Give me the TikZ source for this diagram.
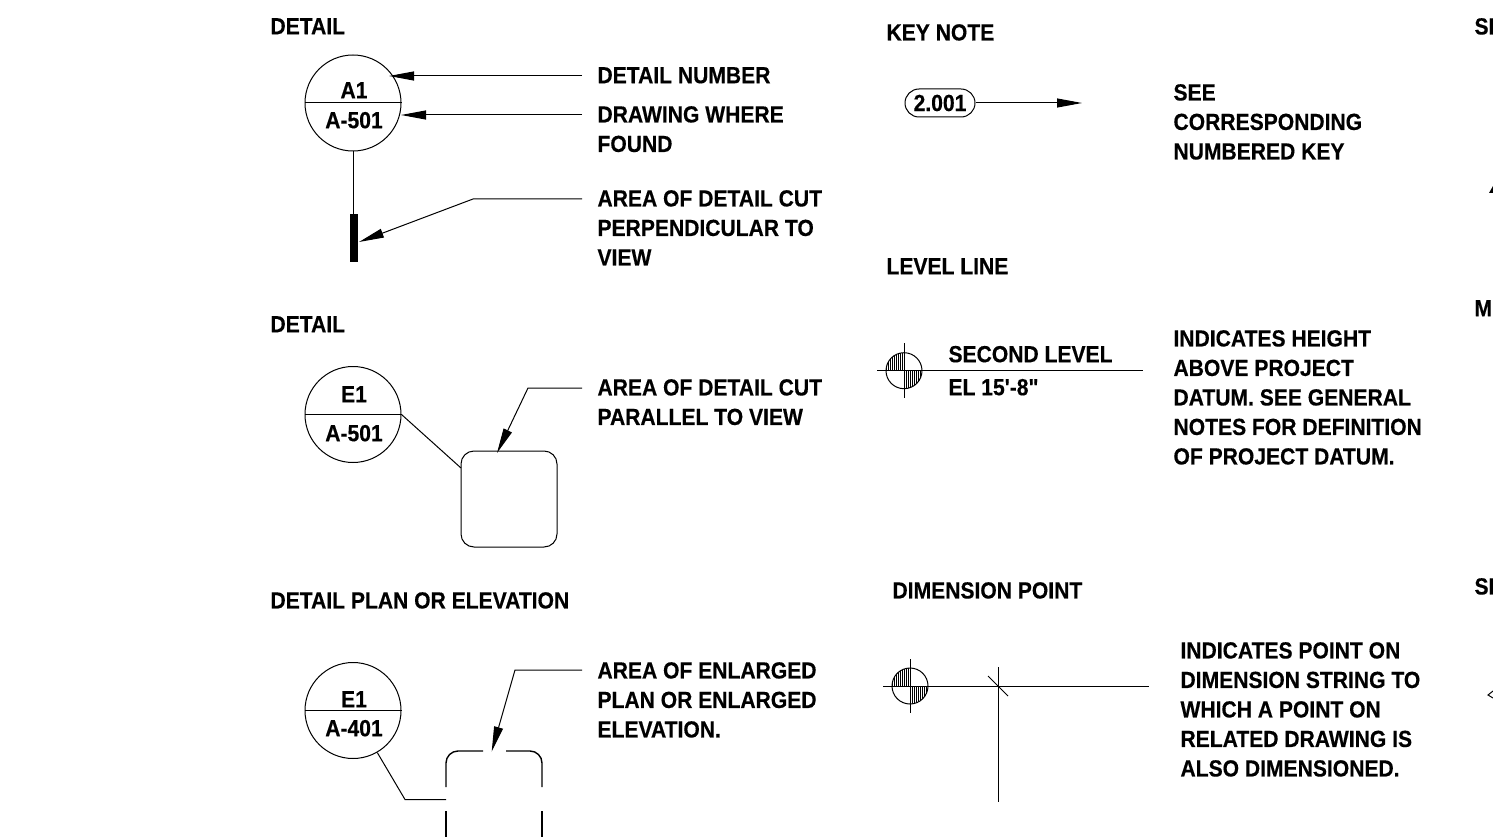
\documentclass[tikz,border=0pt]{standalone}
\usepackage{fontspec}
\setmainfont[Ligatures=TeXOff, FakeStretch=0.905, BoldFeatures={FakeBold=0.4}]{Liberation Sans}
\usetikzlibrary{arrows.meta}

\begin{document}
\begin{tikzpicture}[x=1pt, y=-1pt, line width=1pt,
    main/.style = {draw, circle, minimum size=96pt, inner sep=0pt},
    note/.style = {anchor=north west, align=left, inner sep=0pt, yshift=0.8pt, font=\fontsize{23.3}{29.5}\selectfont\bfseries},
    mid/.style = {inner sep=0pt, yshift=0.8pt, font=\fontsize{23.3}{29.5}\selectfont\bfseries},
    lead/.style = {-{Triangle[length=25pt,width=9pt]}},
    heavy/.style = {line width=1.4pt}]
    \useasboundingbox (0,0) rectangle (1493,837);

    % left column
    \node[note] (t1) at (270,18.5) {DETAIL};
    \node[main] (c1) at (353,103) {};
    \draw (c1.west) -- (c1.east);
    \node[mid] (a1) at (354,91) {A1};
    \node[mid] (s1) at (354,121) {A-501};
    \node[note] (n1) at (597,67.5) {DETAIL NUMBER};
    \node[note] (n2) at (597,106.5) {DRAWING WHERE\\FOUND};
    \node[note] (n3) at (597,190.5) {AREA OF DETAIL CUT\\PERPENDICULAR TO\\VIEW};
    \coordinate (e1) at (582,76);
    \coordinate (tip1) at (389,76);
    \coordinate (e2) at (582,115);
    \coordinate (tip2) at (401,115);
    \coordinate (e3) at (582,199);
    \coordinate (k3) at (473,199);
    \coordinate (tip3) at (359,242);
    \node[fill=black, minimum width=8pt, minimum height=48pt, inner sep=0pt] (bar) at (354,238) {};
    \draw[lead] (e1) -- (tip1);
    \draw[lead] (e2) -- (tip2);
    \draw (c1.south) -- (c1.south |- bar.north);
    \draw[lead] (e3) -- (k3) -- (tip3);

    \node[note] (t2) at (270,316.5) {DETAIL};
    \node[main] (c2) at (353,414.5) {};
    \draw (c2.west) -- (c2.east);
    \node[mid] (a2) at (354,395) {E1};
    \node[mid] (s2) at (354,434) {A-501};
    \node[draw, minimum size=96pt, inner sep=0pt, rounded corners=13pt] (r2) at (509,499) {};
    \node[note] (n4) at (597,379.5) {AREA OF DETAIL CUT\\PARALLEL TO VIEW};
    \coordinate (j2) at (461,468);
    \coordinate (e4) at (582,388);
    \coordinate (k4) at (528,388);
    \coordinate (tip4) at (497,453);
    \draw (c2.east) -- (j2);
    \draw[lead] (e4) -- (k4) -- (tip4);

    \node[note] (t3) at (270,592.5) {DETAIL PLAN OR ELEVATION};
    \node[main] (c3) at (353,710.5) {};
    \draw (c3.west) -- (c3.east);
    \node[mid] (a3) at (354,700) {E1};
    \node[mid] (s3) at (354,729) {A-401};
    \node[note] (n5) at (597,662.5) {AREA OF ENLARGED\\PLAN OR ENLARGED\\ELEVATION.};
    \coordinate (k5) at (405,799.5);
    \coordinate (j5) at (446,799.5);
    \coordinate (e6) at (582,670);
    \coordinate (k6) at (515,670);
    \coordinate (tip6) at (491.7,751.5);
    \draw (c3.-60) -- (k5) -- (j5);
    \draw[lead] (e6) -- (k6) -- (tip6);
    \draw[heavy, rounded corners=12pt] (446,787) -- (446,751) -- (483,751);
    \draw[heavy, rounded corners=12pt] (506,751) -- (542,751) -- (542,787);
    \draw[heavy] (446,811) -- (446,837);
    \draw[heavy] (542,811) -- (542,837);

    % middle column
    \node[note] (t4) at (886,24.5) {KEY NOTE};
    \node[draw, rounded corners=14pt, minimum width=70pt, minimum height=28pt, inner sep=0pt, mid, yshift=-0.8pt] (k1) at (940,103) {2.001};
    \coordinate (tip7) at (1082,103);
    \draw[lead] (k1.east) -- (tip7);
    \node[note] (n6) at (1173,84.5) {SEE\\CORRESPONDING\\NUMBERED KEY};

    \node[note] (t5) at (886,258.5) {LEVEL LINE};
    \node[draw, circle, minimum size=36pt, inner sep=0pt] (c4) at (904,370.7) {};
    \coordinate (h4) at (877,370.7);
    \coordinate (g4) at (1143,370.7);
    \foreach \sx/\sy in {-1/-1, 1/1} {
        \begin{scope}
            \clip (c4.center) circle (18);
            \foreach \i in {1,...,9}
                \draw[line width=0.7pt] (904+\sx*\i*2,370.7) -- +(0,\sy*18);
        \end{scope}
    }
    \draw (c4.center) ++(0,-27.7) -- ++(0,54.7);
    \draw (h4) -- (g4);
    \node[mid, anchor=west] (l1) at (948,355) {SECOND LEVEL};
    \node[mid, anchor=west] (l2) at (948,388) {EL 15'-8"};
    \node[note] (n7) at (1173,330.5) {INDICATES HEIGHT\\ABOVE PROJECT\\DATUM. SEE GENERAL\\NOTES FOR DEFINITION\\OF PROJECT DATUM.};

    \node[note] (t6) at (892,582.5) {DIMENSION POINT};
    \node[draw, circle, minimum size=36pt, inner sep=0pt] (c5) at (910,686) {};
    \coordinate (h5) at (883,686);
    \coordinate (g5) at (1149,686);
    \foreach \sx/\sy in {-1/-1, 1/1} {
        \begin{scope}
            \clip (c5.center) circle (18);
            \foreach \i in {1,...,9}
                \draw[line width=0.7pt] (910+\sx*\i*2,686) -- +(0,\sy*18);
        \end{scope}
    }
    \draw (c5.center) ++(0,-27) -- ++(0,54);
    \draw (h5) -- (g5);
    \coordinate (v1) at (998.3,667);
    \coordinate (v2) at (998.3,802);
    \coordinate (d1) at (988,676);
    \coordinate (d2) at (1008,696);
    \draw (v1) -- (v2);
    \draw (d1) -- (d2);
    \node[note] (n8) at (1180,642.5) {INDICATES POINT ON\\DIMENSION STRING TO\\WHICH A POINT ON\\RELATED DRAWING IS\\ALSO DIMENSIONED.};

    % right edge, cut off by the page
    \begin{scope}
        \clip (0,0) rectangle (1493,837);
        \node[note] (t7) at (1474,18.5) {SI};
        \node[note] (t8) at (1474,300.5) {MU};
        \node[note] (t9) at (1474,578.5) {SE};
        \fill (1489,193) -- (1493,186) -- (1493,193) -- cycle;
        \draw (1493,691) -- (1488,695) -- (1493,698);
    \end{scope}
\end{tikzpicture}
\end{document}
